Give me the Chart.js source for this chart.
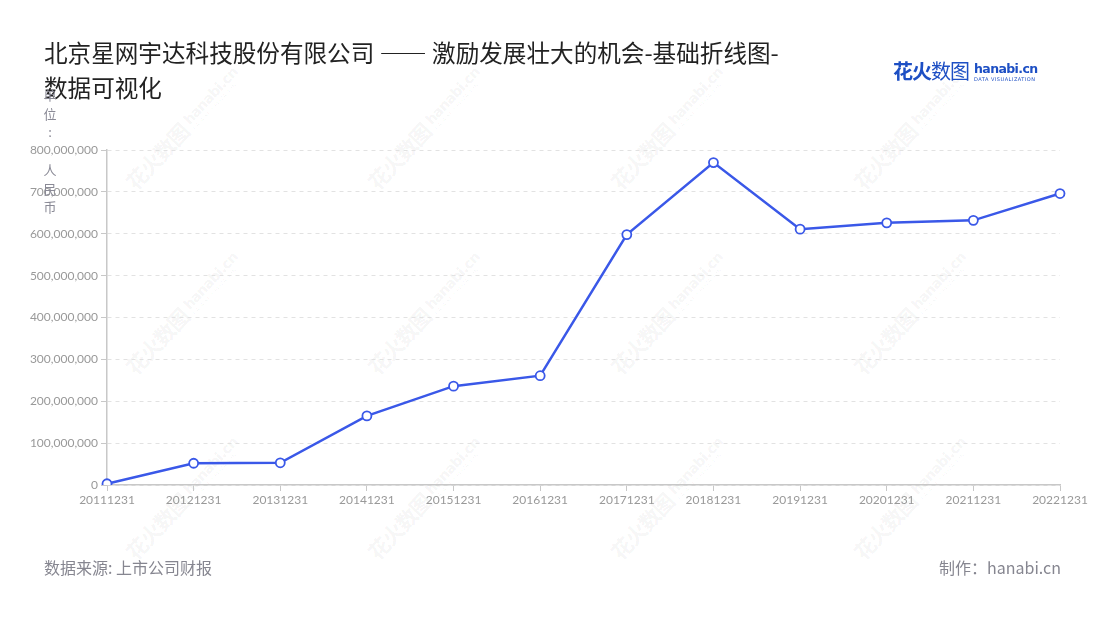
<!DOCTYPE html>
<html lang="zh">
<head>
  <meta charset="UTF-8">
  <title>北京星网宇达科技股份有限公司 —— 激励发展壮大的机会</title>
  <script src="https://cdn.jsdelivr.net/npm/chart.js"></script>
  <style>
    html, body { margin: 0; padding: 0; background: #fff; }
    body { width: 1100px; height: 620px; position: relative; overflow: hidden;
           font-family: Lato, "Noto Sans CJK SC", sans-serif; }
    #wrap { position: absolute; left: 0; top: 0; width: 1100px; height: 620px; }
    .title { position: absolute; left: 44px; top: 35px; width: 800px; font-size: 23.6px;
             line-height: 35px; color: #222; font-family: "Noto Sans CJK SC", sans-serif; }
    .unit { position: absolute; left: 43px; top: 86px; width: 14px; font-size: 13px;
            line-height: 18.7px; color: #8a8a96; text-align: center; white-space: pre;
            font-family: "Noto Sans CJK SC", sans-serif; }
    .foot { position: absolute; top: 555px; font-size: 16px; color: #868690;
            font-family: "Noto Sans CJK SC", sans-serif; }
    .logo { position: absolute; left: 893px; top: 56px; color: #1d4fc4; white-space: nowrap; }
    .logo .cn { font-family: "Noto Sans CJK SC", sans-serif; font-size: 20px; font-weight: 700;
                letter-spacing: -1px; vertical-align: top; }
    .logo .cn span { font-weight: 400; }
    .logo .en { display: inline-block; margin-left: 5px; vertical-align: top; line-height: 1; }
    .logo .en b { font-family: "DejaVu Sans", sans-serif; font-size: 12.5px; font-weight: 700;
                  letter-spacing: -0.6px; display: block; margin-top: 7px; }
    .logo .en i { font-style: normal; font-size: 5px; letter-spacing: 0.5px; display: block;
                  margin-top: 1px; font-family: "DejaVu Sans", sans-serif; }
    .wm { position: absolute; white-space: nowrap; color: rgba(0,0,0,0.055);
          transform: translate(-50%, -50%) rotate(-47deg); }
    .wm .cn { font-family: "Noto Sans CJK SC", sans-serif; font-size: 21px; font-weight: 700;
              letter-spacing: -1px; vertical-align: top; }
    .wm .en { display: inline-block; margin-left: 5px; vertical-align: top; line-height: 1; }
    .wm .en b { font-family: "DejaVu Sans", sans-serif; font-size: 14px; font-weight: 700;
                letter-spacing: -0.6px; display: block; margin-top: 6px; }
    .wm .en i { font-style: normal; font-size: 5px; letter-spacing: 0.5px; display: block;
                margin-top: 1px; font-family: "DejaVu Sans", sans-serif; }
  </style>
</head>
<body>
<div id="marks"></div>
<div id="wrap"><canvas id="lineChart" width="1100" height="620"></canvas></div>
<div class="title">北京星网宇达科技股份有限公司 —— 激励发展壮大的机会-基础折线图-<br>数据可视化</div>
<div class="unit">单
位
:
 
人
民
币</div>
<div class="logo"><span class="cn">花火<span>数图</span></span><span class="en"><b>hanabi.cn</b><i>DATA VISUALIZATION</i></span></div>
<div class="foot" style="left:44px;">数据来源: 上市公司财报</div>
<div class="foot" style="right:39px;">制作：hanabi.cn</div>

<script>
// report dates and values (RMB)
const dates = ['20111231', '20121231', '20131231', '20141231', '20151231', '20161231',
               '20171231', '20181231', '20191231', '20201231', '20211231', '20221231'];
const values = [3000000, 52000000, 53000000, 165000000, 236000000, 261000000,
                598000000, 770000000, 611000000, 626000000, 632000000, 696000000];
const yTicks = [0, 100000000, 200000000, 300000000, 400000000, 500000000,
                600000000, 700000000, 800000000];

// background watermark grid
const marks = document.getElementById('marks');
[183, 425, 668, 911].forEach(cx => {
  [128, 313, 498].forEach(cy => {
    const d = document.createElement('div');
    d.className = 'wm';
    d.style.left = cx + 'px';
    d.style.top = cy + 'px';
    d.innerHTML = '<span class="cn">花火数图</span><span class="en"><b>hanabi.cn</b><i>DATA VISUALIZATION</i></span>';
    marks.appendChild(d);
  });
});

const tickFont = { family: 'Lato, "Noto Sans CJK SC", sans-serif', size: 12 };

new Chart(document.getElementById('lineChart'), {
  type: 'line',
  data: {
    labels: dates,
    datasets: [{
      data: values,
      borderColor: '#3a58e8',
      borderWidth: 2.5,
      tension: 0,
      pointRadius: 4.5,
      pointHoverRadius: 4.5,
      pointBackgroundColor: '#ffffff',
      pointBorderColor: '#3a58e8',
      pointBorderWidth: 1.8
    }]
  },
  options: {
    responsive: false,
    animation: false,
    layout: { padding: { left: 20, right: 40, top: 150, bottom: 105 } },
    plugins: { legend: { display: false }, tooltip: { enabled: false } },
    scales: {
      x: {
        offset: false,
        afterFit(scale) { scale.height = 30; },
        border: { color: '#c8c8c8', width: 1.5 },
        grid: { drawOnChartArea: false, drawTicks: true, tickLength: 6, tickColor: '#c8c8c8' },
        ticks: { color: '#999', font: tickFont, padding: 2, maxRotation: 0, autoSkip: false }
      },
      y: {
        min: 0,
        max: 800000000,
        afterFit(scale) { scale.width = 87; },
        afterBuildTicks(scale) { scale.ticks = yTicks.map(v => ({ value: v })); },
        grid: { color: '#e2e2e2', tickColor: '#c8c8c8', tickLength: 6, tickBorderDash: [] },
        border: { color: '#c8c8c8', width: 1.5, dash: [4, 4] },
        ticks: {
          color: '#999', font: tickFont, padding: 3,
          callback: v => v.toLocaleString('en-US')
        }
      }
    }
  }
});
</script>
</body>
</html>
